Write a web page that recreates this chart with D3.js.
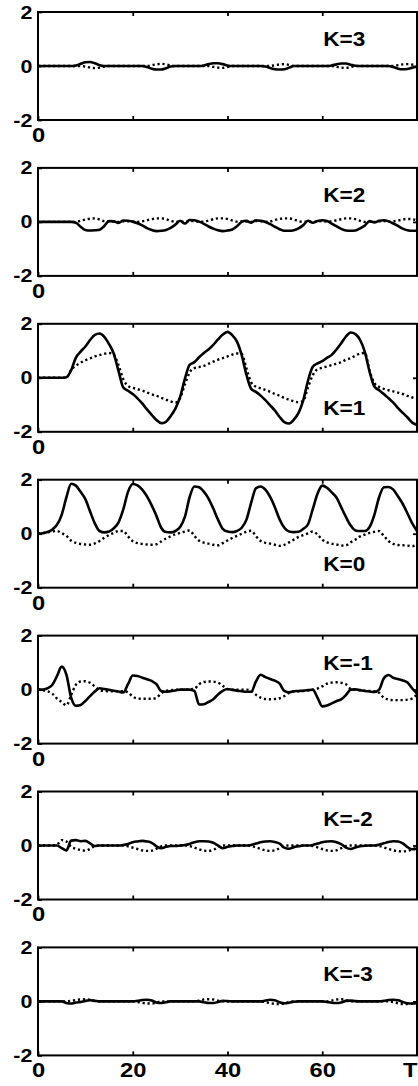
<!DOCTYPE html>
<html>
<head>
<meta charset="utf-8">
<script src="https://cdn.jsdelivr.net/npm/d3@7"></script>
<style>
  body { margin: 0; background: #fff; }
  text { font-family: "Liberation Sans", Arial, Helvetica, sans-serif; font-weight: bold; }
</style>
</head>
<body>
<div id="chart"></div>
<script>
// sample times 0..80, one value per unit of T
const timeSteps = d3.range(0, 81)

const kLabels = ["K=3", "K=2", "K=1", "K=0", "K=-1", "K=-2", "K=-3"]
const xTicks = [0, 20, 40, 60, 80]
const xTickLabels = ["0", "20", "40", "60", "T"]
const yTicks = [-2, 0, 2]

const solidK3 = [0,0,0,0,0,0,0,0,0.02,0.08,
  0.14,0.15,0.1,0.03,0,0,0,0,0,0,
  0,0,0,-0.04,-0.1,-0.13,-0.13,-0.08,-0.02,0,
  0,0,0,0,0,0.02,0.07,0.1,0.1,0.07,
  0.02,0,0,0,0,0,0,0,-0.02,-0.07,
  -0.12,-0.13,-0.12,-0.06,0,0,0,0,0,0,
  0,0,0.02,0.06,0.09,0.09,0.05,0.01,0,0,
  0,0,0,0,0,-0.04,-0.1,-0.12,-0.11,-0.06,
  -0.03]
const dottedK3 = [0,0,0,0,0,0,0,0,0,0,
  -0.02,-0.06,-0.08,-0.06,-0.02,0,0,0,0,0,
  0,0,0,0,0.03,0.06,0.08,0.06,0.02,0,
  0,0,0,0,0,0,0,-0.03,-0.06,-0.07,
  -0.04,0,0,0,0,0,0,0,0,0,
  0.03,0.06,0.07,0.04,0,0,0,0,0,0,
  0,0,0,-0.03,-0.06,-0.07,-0.04,0,0,0,
  0,0,0,0,0,0,0.03,0.06,0.07,0.05,
  0.02]

const solidK2 = [0,0,0,0,0,0,0,0,-0.03,-0.18,
  -0.3,-0.32,-0.31,-0.29,-0.15,0.03,0.02,-0.04,0.05,0.04,
  0.01,-0.05,-0.13,-0.23,-0.3,-0.34,-0.33,-0.3,-0.22,-0.1,
  0.04,-0.06,0.07,0.06,0.01,-0.07,-0.17,-0.25,-0.31,-0.34,
  -0.32,-0.28,-0.16,0,0.04,-0.03,0.06,0.04,0,-0.08,
  -0.18,-0.27,-0.33,-0.33,-0.31,-0.24,-0.12,0.04,-0.03,0.03,
  0.06,0.03,-0.06,-0.16,-0.26,-0.32,-0.33,-0.32,-0.24,-0.13,
  0.03,-0.02,0.04,0.06,0.02,-0.06,-0.15,-0.25,-0.31,-0.33,
  -0.33]
const dottedK2 = [0,0,0,0,0,0,0,0,0,0.04,
  0.09,0.12,0.13,0.09,0.03,0.02,0.01,0,0.02,0.02,
  0.01,0,0.02,0.06,0.1,0.13,0.13,0.1,0.04,0,
  0.02,0,0.03,0.03,0.01,0.01,0.05,0.1,0.13,0.13,
  0.11,0.05,0.01,0.02,0.01,0,0.03,0.02,0.01,0.02,
  0.07,0.11,0.13,0.13,0.09,0.03,0,0.02,0,0.02,
  0.03,0.01,0.02,0.06,0.1,0.13,0.13,0.1,0.04,0,
  0.02,0,0.02,0.03,0.01,0.02,0.05,0.09,0.11,0.1,
  0.06]

const solidK1 = [0,0,0,0,0,0,0.02,0.28,0.75,0.97,
  1.16,1.4,1.59,1.64,1.52,1.25,0.89,0.25,-0.36,-0.48,
  -0.6,-0.76,-0.95,-1.17,-1.37,-1.56,-1.68,-1.63,-1.42,-1.14,
  -0.71,-0.04,0.48,0.58,0.76,0.92,1.05,1.22,1.42,1.6,
  1.7,1.58,1.34,0.84,0.11,-0.41,-0.52,-0.66,-0.83,-1.02,
  -1.21,-1.45,-1.64,-1.69,-1.55,-1.3,-0.83,-0.1,0.41,0.53,
  0.62,0.74,0.85,1.05,1.28,1.53,1.68,1.62,1.4,0.95,
  0.22,-0.32,-0.46,-0.6,-0.76,-0.92,-1.12,-1.3,-1.47,-1.66,
  -1.75]
const dottedK1 = [0,0,0,0,0,0,0,0.3,0.45,0.56,
  0.65,0.72,0.79,0.84,0.89,0.92,0.85,0.47,-0.05,-0.3,
  -0.37,-0.42,-0.47,-0.55,-0.61,-0.67,-0.74,-0.81,-0.87,-0.92,
  -0.75,-0.25,0.2,0.36,0.4,0.44,0.52,0.6,0.67,0.73,
  0.79,0.86,0.9,0.88,0.35,-0.17,-0.33,-0.39,-0.45,-0.52,
  -0.6,-0.66,-0.75,-0.81,-0.87,-0.91,-0.85,-0.35,0.1,0.32,
  0.37,0.42,0.47,0.52,0.58,0.67,0.73,0.82,0.9,0.92,
  0.25,-0.2,-0.34,-0.41,-0.46,-0.5,-0.55,-0.6,-0.67,-0.73,
  -0.78]

const solidK0 = [0,0.02,0.06,0.15,0.33,0.7,1.35,1.85,1.78,1.55,
  1.28,0.82,0.38,0.1,0.05,0.08,0.2,0.42,0.9,1.55,
  1.84,1.79,1.63,1.38,1.05,0.66,0.22,0.06,0.05,0.1,
  0.25,0.62,1.35,1.75,1.72,1.56,1.3,0.93,0.52,0.18,
  0.08,0.06,0.1,0.22,0.52,1.15,1.68,1.75,1.63,1.36,
  0.98,0.53,0.22,0.08,0.06,0.07,0.18,0.35,0.91,1.48,
  1.78,1.7,1.53,1.34,0.98,0.62,0.3,0.12,0.1,0.1,
  0.25,0.7,1.35,1.72,1.73,1.63,1.38,1.1,0.75,0.38,
  0.1]
const dottedK0 = [0,0.02,0.05,0.08,0.1,0.02,-0.08,-0.26,-0.34,-0.38,
  -0.4,-0.41,-0.36,-0.27,-0.15,-0.05,0.03,0.1,0.1,-0.1,
  -0.28,-0.35,-0.38,-0.4,-0.41,-0.39,-0.29,-0.18,-0.1,-0.02,
  0.03,0.08,0.12,-0.08,-0.26,-0.33,-0.37,-0.41,-0.43,-0.35,
  -0.25,-0.16,-0.08,0,0.07,0.11,-0.09,-0.27,-0.34,-0.37,
  -0.41,-0.45,-0.41,-0.32,-0.22,-0.12,-0.05,0.01,0.08,-0.03,
  -0.22,-0.32,-0.37,-0.4,-0.44,-0.43,-0.32,-0.22,-0.1,-0.03,
  0.03,0.07,0.1,-0.08,-0.27,-0.38,-0.42,-0.43,-0.44,-0.46,
  -0.4]

const solidKm1 = [0,0,0.05,0.17,0.5,0.85,0.55,-0.3,-0.6,-0.57,
  -0.42,-0.24,-0.07,0.05,0.02,-0.01,-0.04,-0.07,-0.11,0.2,
  0.52,0.5,0.44,0.38,0.32,0.2,-0.05,-0.08,-0.06,-0.03,
  0,0,0,-0.05,-0.55,-0.54,-0.46,-0.36,-0.18,-0.05,
  0.02,-0.01,-0.04,-0.06,-0.08,-0.08,0.3,0.55,0.46,0.39,
  0.33,0.22,-0.05,-0.1,-0.06,-0.05,-0.04,-0.02,0,-0.3,
  -0.62,-0.59,-0.51,-0.43,-0.36,-0.2,0,0.01,-0.02,-0.05,
  -0.07,-0.09,0,0.42,0.54,0.44,0.39,0.34,0.26,0.04,
  -0.15]
const dottedKm1 = [0,-0.02,-0.06,-0.15,-0.33,-0.46,-0.58,-0.2,0.18,0.3,
  0.31,0.25,0.12,-0.02,-0.05,-0.06,-0.06,-0.06,-0.06,-0.1,
  -0.26,-0.33,-0.34,-0.34,-0.34,-0.3,-0.14,-0.04,-0.02,-0.01,
  0,0,0.01,0.03,0.2,0.28,0.3,0.29,0.26,0.14,
  0.02,0,0,0,0,-0.05,-0.19,-0.3,-0.35,-0.36,
  -0.35,-0.32,-0.24,-0.12,-0.07,-0.06,-0.05,-0.03,-0.01,0.04,
  0.12,0.22,0.26,0.27,0.25,0.2,0.03,-0.01,-0.03,-0.04,
  -0.05,-0.06,-0.12,-0.3,-0.37,-0.39,-0.39,-0.39,-0.37,-0.33,
  -0.18]

const solidKm2 = [0,0,0,0,0,-0.1,-0.18,0.18,0.2,0.16,
  0.17,0.08,-0.02,0,0,0,0,0,0.02,0.06,
  0.12,0.15,0.17,0.15,0.1,-0.03,-0.1,-0.05,-0.02,-0.02,
  0,0.02,0.06,0.12,0.16,0.16,0.15,0.1,0,-0.1,
  -0.05,-0.02,0,0,0,0.02,0.07,0.12,0.15,0.16,
  0.13,0.07,-0.08,-0.12,-0.06,-0.03,0,0,0.02,0.07,
  0.12,0.15,0.16,0.12,0.05,-0.08,-0.13,-0.07,-0.03,-0.01,
  0,0,0.03,0.08,0.13,0.16,0.15,0.08,-0.06,-0.14,
  -0.12]
const dottedKm2 = [0,0,0,0,0.03,0.2,0.15,-0.05,-0.12,-0.17,
  -0.19,-0.12,-0.02,0,0,0,0,0,0,-0.03,
  -0.08,-0.13,-0.18,-0.2,-0.19,-0.12,-0.03,0,0,0,
  0,0,-0.02,-0.08,-0.14,-0.19,-0.2,-0.16,-0.06,0,
  0,0,0,0,0,-0.02,-0.07,-0.13,-0.18,-0.2,
  -0.18,-0.1,-0.02,0,0,0,0,0,-0.02,-0.07,
  -0.13,-0.18,-0.2,-0.18,-0.1,-0.02,0,0,0,0,
  0,0,-0.02,-0.07,-0.13,-0.18,-0.21,-0.22,-0.2,-0.14,
  -0.08]

const solidKm3 = [0,0,0,0,0,0,-0.06,-0.08,-0.04,-0.02,
  0.02,0.04,0.02,0,0,0,0,0,0,0,
  0,0.02,0.05,0.06,0.03,-0.04,-0.06,-0.03,0,0,
  0,0,0,0,0,-0.03,-0.06,-0.06,-0.02,0.02,
  0.01,0,0,0,0,0,0,0,0.03,0.06,
  0.04,-0.03,-0.07,-0.05,-0.01,0,0,0,0,0,
  0,-0.02,-0.05,-0.06,-0.04,0.02,0.03,0.01,0,0,
  0,0,0,0.02,0.05,0.06,0.04,-0.02,-0.07,-0.08,
  -0.06]
const dottedKm3 = [0,0,0,0,0,0,0,0.02,0.05,0.07,
  0.08,0.06,0.02,0,0,0,0,0,0,0,
  0,-0.02,-0.05,-0.08,-0.08,-0.05,0,0,0,0,
  0,0,0,0,0.03,0.07,0.08,0.07,0.03,0,
  0,0,0,0,0,0,0,0,-0.03,-0.06,
  -0.09,-0.1,-0.07,-0.02,0,0,0,0,0,0,
  0,0,0.03,0.07,0.08,0.05,0,0,0,0,
  0,0,0,0,0,-0.03,-0.07,-0.1,-0.1,-0.08,
  -0.06]

const solidSeries = [solidK3, solidK2, solidK1, solidK0, solidKm1, solidKm2, solidKm3]
const dottedSeries = [dottedK3, dottedK2, dottedK1, dottedK0, dottedKm1, dottedKm2, dottedKm3]

// layout
const W = 418, H = 1086
const firstTop = 12, panelStep = 155.9, panelH = 108
const stretch = "scale(1.13,1)"   // scanned glyphs are a bit wider than the font

const svg = d3.select("#chart").append("svg")
  .attr("width", W)
  .attr("height", H)
  .style("background", "#fff")

const x = d3.scaleLinear().domain([0, 80]).range([38, 417])

solidSeries.forEach((solid, i) => {
  const top = firstTop + i * panelStep
  const y = d3.scaleLinear().domain([-2, 2]).range([top + panelH, top])
  const last = i === solidSeries.length - 1
  const g = svg.append("g")

  const line = d3.line()
    .x((d, j) => x(timeSteps[j]))
    .y(d => y(d))
    .curve(d3.curveMonotoneX)

  // dotted curve first, solid on top
  g.append("path")
    .datum(dottedSeries[i])
    .attr("d", line)
    .attr("fill", "none")
    .attr("stroke", "#000")
    .attr("stroke-width", 2.4)
    .attr("stroke-dasharray", "2.2,2.8")

  g.append("path")
    .datum(solid)
    .attr("d", line)
    .attr("fill", "none")
    .attr("stroke", "#000")
    .attr("stroke-width", 2.6)
    .attr("stroke-linejoin", "round")

  // box
  g.append("rect")
    .attr("x", x(0))
    .attr("y", top)
    .attr("width", x(80) - x(0))
    .attr("height", panelH)
    .attr("fill", "none")
    .attr("stroke", "#000")
    .attr("stroke-width", 2)

  // inward ticks, top and bottom
  const bottom = g.append("g")
    .attr("transform", "translate(0," + (top + panelH) + ")")
    .call(d3.axisBottom(x)
      .tickValues(xTicks)
      .tickSize(-4)
      .tickPadding(7)
      .tickFormat((d, k) => last ? xTickLabels[k] : (d === 0 ? "0" : "")))
  g.append("g")
    .attr("transform", "translate(0," + top + ")")
    .call(d3.axisTop(x).tickValues([20, 40, 60]).tickSize(-4).tickFormat(""))

  const left = g.append("g")
    .attr("transform", "translate(" + x(0) + ",0)")
    .call(d3.axisLeft(y).tickValues(yTicks).tickSize(-4).tickPadding(5).tickFormat(d => String(d)))
  g.append("g")
    .attr("transform", "translate(" + x(80) + ",0)")
    .call(d3.axisRight(y).tickValues([0]).tickSize(-4).tickFormat(""))

  g.selectAll(".domain").remove()
  g.selectAll(".tick line").attr("stroke", "#000").attr("stroke-width", 1.8)

  bottom.selectAll("text")
    .attr("fill", "#000")
    .style("font-size", "21px")
    .attr("transform", stretch)
  bottom.selectAll(".tick text").filter(d => d === 80).attr("text-anchor", "end")

  left.selectAll("text")
    .attr("fill", "#000")
    .style("font-size", "19px")
    .attr("transform", stretch)

  // K label: upper right for most panels, lower right for K=1 and K=0
  const low = kLabels[i] === "K=1" || kLabels[i] === "K=0"
  g.append("text")
    .attr("transform", "translate(" + x(60.2) + "," + (low ? top + 91.5 : top + 34) + ") " + stretch)
    .style("font-size", "20px")
    .attr("fill", "#000")
    .text(kLabels[i])
})
</script>
</body>
</html>
